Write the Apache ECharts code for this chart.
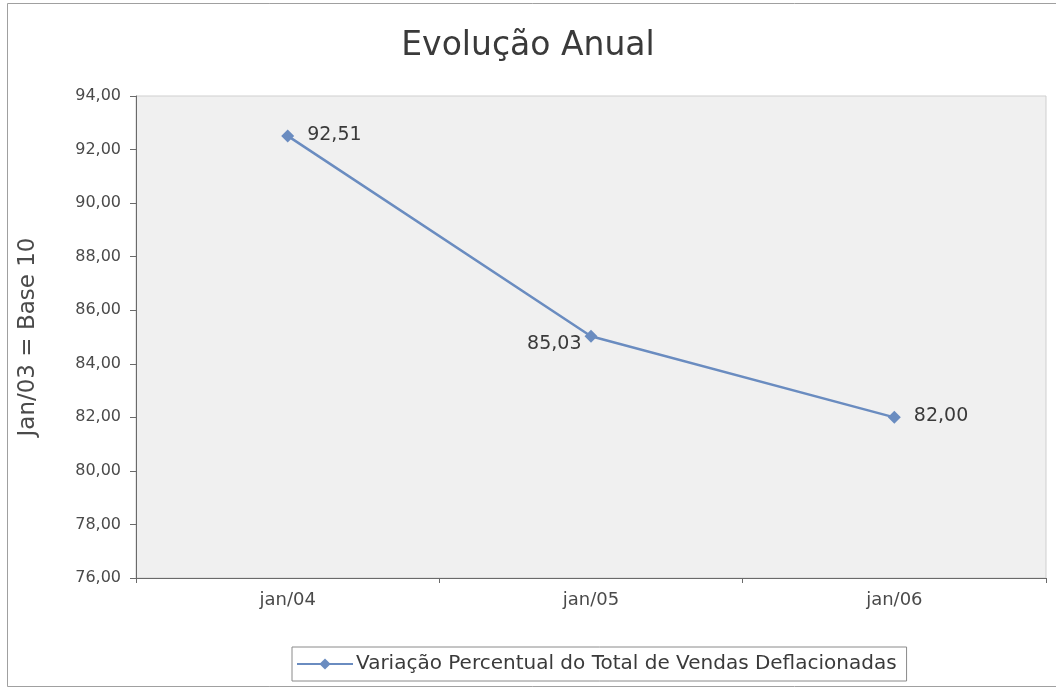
<!DOCTYPE html>
<html>
<head>
<meta charset="utf-8">
<script src="https://cdn.jsdelivr.net/npm/echarts@6/dist/echarts.min.js"></script>
<style>
  html, body { margin: 0; padding: 0; background: #ffffff; }
  #chart { width: 1056px; height: 688px; }
</style>
</head>
<body>
<div id="chart"></div>
<script>
// Annual evolution of deflated total sales (index, Jan/03 = base)
const categories = ['jan/04', 'jan/05', 'jan/06'];
const values = [92.51, 85.03, 82.00];
const labelPositions = ['right', 'left', 'right'];
const seriesName = 'Variação Percentual do Total de Vendas Deflacionadas';

const fmt = v => v.toFixed(2).replace('.', ',');
const font = 'DejaVu Sans, Verdana, sans-serif';
const textColor = '#4a4a4a';
const lineColor = '#6a8cc0';

const chart = echarts.init(document.getElementById('chart'), null, { renderer: 'canvas' });
chart.setOption({
  backgroundColor: '#ffffff',
  animation: false,
  textStyle: { fontFamily: font },
  graphic: [{
    type: 'rect',
    shape: { x: 7.5, y: 3.5, width: 1060, height: 683 },
    style: { fill: 'none', stroke: '#a0a0a0', lineWidth: 1 },
    silent: true, z: -10
  }],
  title: {
    text: 'Evolução Anual',
    left: 'center',
    top: 25,
    textStyle: { fontSize: 33, fontWeight: 'normal', color: '#3a3a3a', fontFamily: font }
  },
  legend: {
    top: 647,
    left: 292,
    data: [seriesName],
    itemWidth: 56,
    itemHeight: 14,
    itemGap: 6,
    padding: [7, 10, 7, 4],
    borderColor: '#8a8a8a',
    borderWidth: 1,
    borderRadius: 0,
    textStyle: { fontSize: 20, color: '#3a3a3a', padding: [0, 0, 0, -2] }
  },
  grid: {
    left: 136, right: 10, top: 96, bottom: 110,
    show: true,
    backgroundColor: '#f0f0f0',
    borderColor: '#cfcfcf',
    borderWidth: 1
  },
  xAxis: {
    type: 'category',
    data: categories,
    boundaryGap: true,
    axisLine: { lineStyle: { color: '#6a6a6a' } },
    axisTick: { show: true, length: 5, lineStyle: { color: '#6a6a6a' } },
    axisLabel: { fontSize: 18, color: textColor, margin: 13 }
  },
  yAxis: {
    type: 'value',
    min: 76, max: 94, interval: 2,
    name: 'Jan/03 = Base 10',
    nameLocation: 'middle',
    nameGap: 96,
    nameRotate: 90,
    nameTextStyle: { fontSize: 23, color: textColor },
    axisLine: { show: true, lineStyle: { color: '#6a6a6a' } },
    axisTick: { show: true, length: 6, lineStyle: { color: '#6a6a6a' } },
    splitLine: { show: false },
    axisLabel: { fontSize: 16, color: textColor, margin: 15, formatter: v => fmt(v) }
  },
  series: [{
    name: seriesName,
    type: 'line',
    data: values.map((v, i) => ({
      value: v,
      label: {
        position: labelPositions[i],
        distance: labelPositions[i] === 'left' ? 3 : 13,
        offset: labelPositions[i] === 'left' ? [0, 8] : [0, -1]
      }
    })),
    symbol: 'diamond',
    symbolSize: 13,
    itemStyle: { color: lineColor },
    lineStyle: { color: lineColor, width: 2.5 },
    label: {
      show: true,
      fontSize: 19,
      color: '#3a3a3a',
      formatter: p => fmt(p.value)
    }
  }]
});
</script>
</body>
</html>
